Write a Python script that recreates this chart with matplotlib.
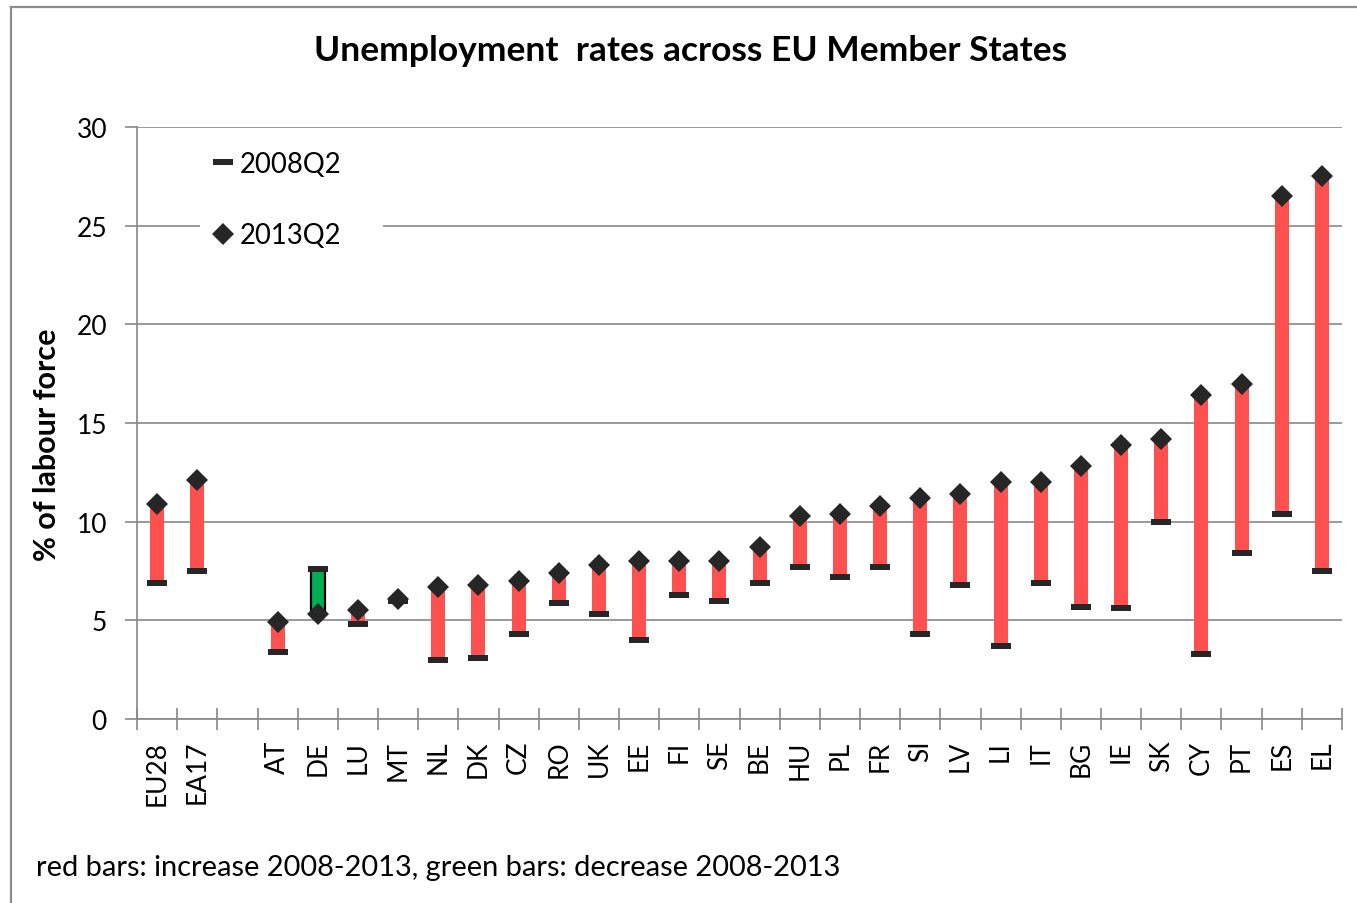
import matplotlib
matplotlib.use("Agg")
import matplotlib.pyplot as plt
from matplotlib.lines import Line2D
import numpy as np

# Unemployment rates (% of labour force), 2008Q2 vs 2013Q2
countries = ["EU28", "EA17", "", "AT", "DE", "LU", "MT", "NL", "DK", "CZ",
             "RO", "UK", "EE", "FI", "SE", "BE", "HU", "PL", "FR", "SI",
             "LV", "LI", "IT", "BG", "IE", "SK", "CY", "PT", "ES", "EL"]
rate_2008 = [6.9, 7.5, np.nan, 3.4, 7.6, 4.8, 6.0, 3.0, 3.1, 4.3,
             5.9, 5.3, 4.0, 6.3, 6.0, 6.9, 7.7, 7.2, 7.7, 4.3,
             6.8, 3.7, 6.9, 5.7, 5.6, 10.0, 3.3, 8.4, 10.4, 7.5]
rate_2013 = [10.9, 12.1, np.nan, 4.9, 5.3, 5.5, 6.1, 6.7, 6.8, 7.0,
             7.4, 7.8, 8.0, 8.0, 8.0, 8.7, 10.3, 10.4, 10.8, 11.2,
             11.4, 12.0, 12.0, 12.8, 13.9, 14.2, 16.4, 17.0, 26.5, 27.5]
y_ticks = [0, 5, 10, 15, 20, 25, 30]

RED = "#FF5050"
GREEN = "#00B050"
MARK = "#262626"
GRID = "#888888"
FONT = "Lato"

plt.rcParams["font.family"] = [FONT, "DejaVu Sans"]

W, H = 1357, 904
fig = plt.figure(figsize=(W / 100, H / 100), dpi=100)
ax = fig.add_axes([137 / W, 1 - 720 / H, (1342 - 137) / W, (720 - 128) / H])

x = np.arange(len(countries))
lo = np.array(rate_2008, dtype=float)
hi = np.array(rate_2013, dtype=float)

# range bars: red when unemployment rose, green when it fell
for xi, a, b in zip(x, lo, hi):
    if np.isnan(a) or np.isnan(b):
        continue
    if b >= a:
        ax.bar(xi, b - a, bottom=a, width=0.35, color=RED, zorder=3, linewidth=0)
    else:
        ax.bar(xi, a - b, bottom=b, width=0.35, color=GREEN, zorder=3,
               edgecolor="black", linewidth=1.6)

dash_marker = [(-1, -0.28), (1, -0.28), (1, 0.28), (-1, 0.28), (-1, -0.28)]
ax.plot(x, lo, linestyle="none", marker=dash_marker, markersize=14.5,
        color=MARK, markeredgewidth=0, zorder=4, label="2008Q2")
ax.plot(x, hi, linestyle="none", marker="D", markersize=11,
        color=MARK, markeredgewidth=0, zorder=5, label="2013Q2")

ax.set_xlim(-0.5, len(countries) - 0.5)
ax.set_ylim(0, 30)

# y axis
ax.set_yticks(y_ticks)
ax.set_yticklabels([str(v) for v in y_ticks])
ax.tick_params(axis="y", direction="out", length=8.6, width=1.2, color=GRID,
               labelsize=19, pad=13, labelcolor="black")
ax.yaxis.grid(True, color=GRID, linewidth=1.2, zorder=0)
ax.set_axisbelow(True)

# x axis: ticks at category boundaries, labels at centres
ax.set_xticks(np.arange(-0.5, len(countries)), minor=False)
ax.set_xticklabels([])
ax.set_xticks(x, minor=True)
ax.set_xticklabels(countries, minor=True, rotation=90, fontsize=19)
ax.tick_params(axis="x", which="major", direction="inout", length=16,
               width=1.2, color=GRID)
ax.tick_params(axis="x", which="minor", length=0, pad=15)
for lbl in ax.get_xticklabels(minor=True):
    lbl.set_verticalalignment("top")

for side in ("top", "right"):
    ax.spines[side].set_visible(False)
for side in ("left", "bottom"):
    ax.spines[side].set_color(GRID)
    ax.spines[side].set_linewidth(1.2)

leg = ax.legend(loc="upper left", bbox_to_anchor=(0.052, 0.978, 0.152, 0.0),
                mode="expand", fontsize=19.8, frameon=True, facecolor="white",
                edgecolor="none", framealpha=1, fancybox=False,
                handlelength=0.9, handletextpad=0.15, labelspacing=1.65,
                borderpad=0.4, borderaxespad=0)
leg.set_zorder(6)

fig.text(691 / W, 1 - 51 / H, "Unemployment  rates across EU Member States",
         ha="center", va="center", fontsize=25.5, fontweight="bold")
fig.text(47 / W, 1 - 445 / H, "% of labour force", rotation=90,
         ha="center", va="center", fontsize=22, fontweight="bold")
fig.text(36 / W, 1 - 868 / H,
         "red bars: increase 2008-2013, green bars: decrease 2008-2013",
         ha="left", va="center", fontsize=20.9)

# outer frame (top and left edges)
fig.add_artist(Line2D([11 / W, 11 / W], [0, 1 - 8 / H], transform=fig.transFigure,
                      color="#8C8C8C", linewidth=1.6))
fig.add_artist(Line2D([11 / W, 1], [1 - 8 / H, 1 - 8 / H], transform=fig.transFigure,
                      color="#8C8C8C", linewidth=1.6))

fig.savefig("out.png", dpi=100)
